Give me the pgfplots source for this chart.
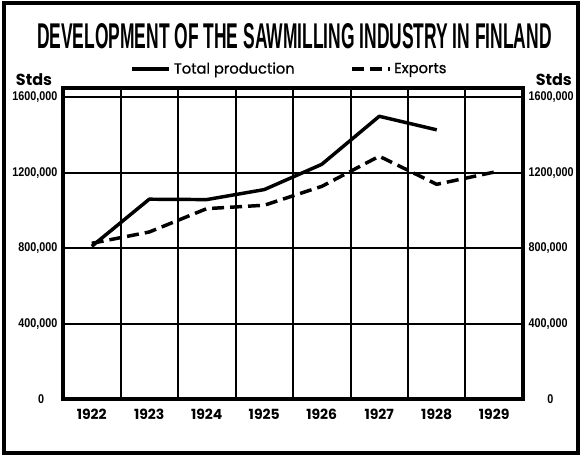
\documentclass[border=0pt]{standalone}
\usepackage{graphicx}
\usepackage{fontspec}
\setmainfont{Poppins}
\newfontfamily\legfont[FakeBold=0.8]{Poppins}
\newfontfamily\condfont[FakeStretch=0.85]{Liberation Sans}
\newfontfamily\titlefont{Liberation Sans}
\usepackage{pgfplots}
\pgfplotsset{compat=1.18}

\begin{document}
\begin{tikzpicture}
  \begin{axis}[
    scale only axis,
    width=345pt, height=233.25pt,
    xmin=1921.5, xmax=1929.5,
    ymin=0, ymax=1650000,
    clip=false,
    scaled y ticks=false,
    xtick={1922,...,1929},
    xticklabels={1922,1923,1924,1925,1926,1927,1928,1929},
    minor xtick={1922.5,1923.5,...,1928.5},
    xminorgrids=true,
    ytick={0,400000,800000,1200000,1600000},
    yticklabels={0\hspace*{10pt},{400,000},{800,000},{1200,000},{1600,000}},
    ymajorgrids=true,
    grid style={black, line width=1.5pt},
    minor grid style={black, line width=1.5pt},
    major tick length=0pt, minor tick length=0pt,
    axis line style={line width=2.6pt},
    xticklabel style={font=\bfseries\fontsize{10.5}{10.5}\selectfont, inner sep=0pt, anchor=north, yshift=-7pt},
    yticklabel style={font=\condfont\bfseries\fontsize{9.5}{9.5}\selectfont, inner sep=0pt, anchor=east, xshift=-4pt},
    legend style={at={(rel axis cs:0.493,1.061)}, anchor=center, draw=none, fill=none,
      legend columns=2, font=\legfont\fontsize{11}{11}\selectfont,
      /tikz/every even column/.append style={column sep=40pt}},
    legend image code/.code={\draw[#1] (0pt,0pt) -- (28pt,0pt);},
  ]
    \addplot[black, line width=2.6pt, line join=round] coordinates {
      (1922,810000) (1923,1060000) (1924,1058000) (1925,1111000)
      (1926,1245000) (1927,1500000) (1928,1428000)};
    \addplot[black, line width=2.6pt, dash pattern=on 9pt off 4.5pt, line join=round] coordinates {
      (1922,826000) (1923,886000) (1924,1010000) (1925,1028000)
      (1926,1128000) (1927,1288000) (1928,1139000) (1929,1204000)};
    \legend{Total production, Exports}
    % outer frame and page extent
    \path (rel axis cs:-0.13696,-0.18971) rectangle (rel axis cs:1.13261,1.28296);
    \draw[line width=2.5pt] (rel axis cs:-0.12826,-0.17363) rectangle (rel axis cs:1.11957,1.27331);
    \node at (rel axis cs:0.503,1.167) {\resizebox{386pt}{18.75pt}{\titlefont\bfseries DEVELOPMENT OF THE SAWMILLING INDUSTRY IN FINLAND}};
    \node[font=\bfseries\fontsize{12}{12}\selectfont] at (rel axis cs:-0.063,1.026) {Stds};
    \node[font=\bfseries\fontsize{12}{12}\selectfont] at (rel axis cs:1.067,1.026) {Stds};
  \end{axis}
  \begin{axis}[
    scale only axis,
    width=345pt, height=233.25pt,
    xmin=1921.5, xmax=1929.5,
    ymin=0, ymax=1650000,
    scaled y ticks=false,
    hide x axis,
    axis y line*=right,
    axis line style={line width=2.6pt, -},
    ytick={0,400000,800000,1200000,1600000},
    yticklabels={\hspace*{14pt}0,{400,000},{800,000},{1200,000},{1600,000}},
    major tick length=0pt,
    yticklabel style={font=\condfont\bfseries\fontsize{9.5}{9.5}\selectfont, inner sep=0pt, anchor=west, xshift=4pt},
  ]
  \end{axis}
\end{tikzpicture}
\end{document}
